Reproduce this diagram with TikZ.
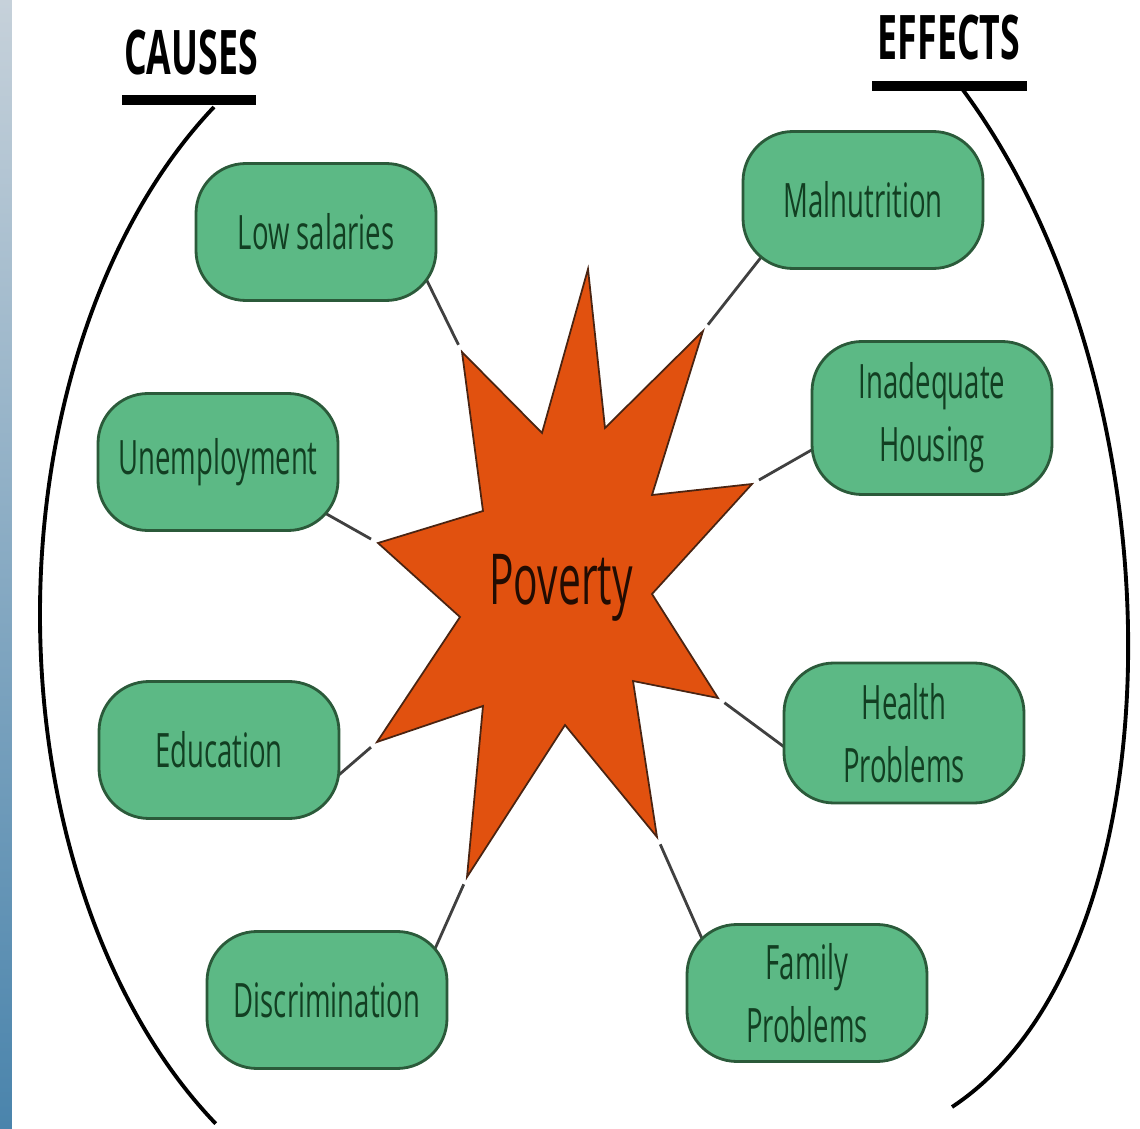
\documentclass[tikz,border=0pt]{standalone}
\usepackage{fontspec}
\setmainfont{Open Sans}[FakeStretch=0.58]
\usetikzlibrary{backgrounds}

\definecolor{boxgreen}{HTML}{5CB985}
\definecolor{boxedge}{HTML}{2B5A3A}
\definecolor{boxtext}{HTML}{123F22}
\definecolor{starred}{HTML}{E1510F}
\definecolor{staredge}{HTML}{4A2412}
\definecolor{linkgray}{HTML}{404040}
\definecolor{stripdark}{HTML}{4A84AC}
\definecolor{striplight}{HTML}{C6D1DA}

\tikzset{
  topic/.style={draw=boxedge, line width=0.8pt, fill=boxgreen, rounded corners=0.5cm,
    minimum width=2.4cm, minimum height=1.37cm, inner sep=0pt, align=center,
    text=boxtext, font=\fontsize{13.5}{18}\selectfont},
  link/.style={draw=linkgray, line width=0.8pt, shorten <=-0.45cm, shorten >=0.08cm},
  head/.style={inner sep=0pt, anchor=base, font=\bfseries\fontsize{17.5}{20}\selectfont},
  headbar/.style={line width=2.8pt},
  bracket/.style={line width=1.1pt},
}

\begin{document}
\begin{tikzpicture}
        \useasboundingbox (0,0) rectangle (11.40,11.28);

        % Side strip
        \shade[top color=striplight, bottom color=stripdark] (0,0) rectangle (0.12,11.28);

        % Coordinates (tips of the star)
        \coordinate (tT) at (5.88,8.59);
        \coordinate (tUR) at (7.03,7.97);
        \coordinate (tR) at (7.52,6.44);
        \coordinate (tLR) at (7.18,4.30);
        \coordinate (tBR) at (6.57,2.91);
        \coordinate (tBL) at (4.67,2.51);
        \coordinate (tLL) at (3.77,3.86);
        \coordinate (tL) at (3.78,5.85);
        \coordinate (tUL) at (4.62,7.76);

        % Headings
        \node[head] (causes) at (1.91,10.53) {CAUSES};
        \node[head] (effects) at (9.49,10.68) {EFFECTS};
        \draw[headbar] (1.22,10.28) -- (2.56,10.28);
        \draw[headbar] (8.72,10.42) -- (10.27,10.42);

        % Brackets
        \draw[bracket] (2.14,10.21) arc[start angle=124.4, end angle=235.9, x radius=4, y radius=6.15];
        \draw[bracket] (9.63,10.38) .. controls (11.85,7.38) and (11.85,1.75) .. (9.52,0.21);

        % Drawing the star
        \draw[fill=starred, draw=staredge, line width=0.5pt, line join=miter]
          (tT) -- (6.05,7.00) -- (tUR) -- (6.52,6.33) -- (tR) -- (6.52,5.34) -- (tLR)
          -- (6.33,4.47) -- (tBR) -- (5.65,4.03) -- (tBL) -- (4.83,4.22) -- (tLL)
          -- (4.60,5.11) -- (tL) -- (4.83,6.17) -- (tUL) -- (5.42,6.95) -- cycle;
        \node[anchor=base, inner sep=0pt, text=black!85!starred, font=\fontsize{20}{24}\selectfont]
          (poverty) at (5.61,5.23) {Poverty};

        % Causes
        \node[topic] (lowsal) at (3.16,8.96) {Low salaries};
        \node[topic] (unemp) at (2.18,6.66) {Unemployment};
        \node[topic] (educ) at (2.19,3.78) {Education};
        \node[topic] (discr) at (3.27,1.28) {Discrimination};

        % Effects
        \node[topic] (maln) at (8.63,9.28) {Malnutrition};
        \node[topic, minimum height=1.53cm] (house) at (9.32,7.10) {Inadequate\\Housing};
        \node[topic, minimum height=1.40cm] (health) at (9.04,3.95) {Health\\Problems};
        \node[topic] (family) at (8.07,1.35) {Family\\Problems};

        % Links
        \begin{scope}[on background layer]
          \draw[link] (lowsal.south east) -- (tUL);
          \draw[link] (unemp.-26) -- (tL);
          \draw[link] (educ.-11) -- (tLL);
          \draw[link] (discr.31) -- (tBL);
          \draw[link] (maln.212) -- (tUR);
          \draw[link] (house.195) -- (tR);
          \draw[link] (health.186) -- (tLR);
          \draw[link] (family.148) -- (tBR);
        \end{scope}
\end{tikzpicture}
\end{document}
